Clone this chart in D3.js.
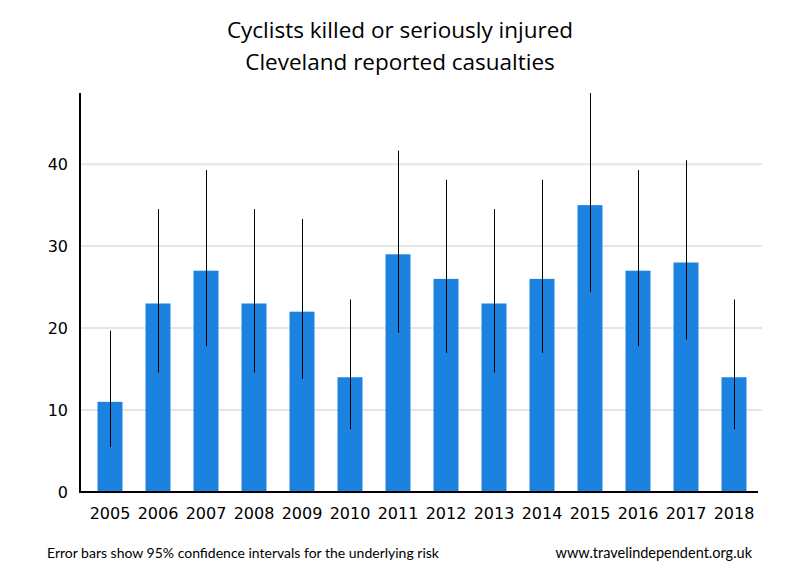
<!DOCTYPE html>
<html><head><meta charset="utf-8">
<script src="https://cdn.jsdelivr.net/npm/d3@7"></script>
<style>body{margin:0;background:#fff}</style>
</head><body>
<script>
const years = ["2005","2006","2007","2008","2009","2010","2011","2012","2013","2014","2015","2016","2017","2018"];
const casualties = [11,23,27,23,22,14,29,26,23,26,35,27,28,14];
const ciLow  = [5.49,14.58,17.79,14.58,13.79,7.65,19.42,16.98,14.58,16.98,24.38,17.79,18.61,7.65];
const ciHigh = [19.68,34.51,39.28,34.51,33.31,23.49,41.65,38.10,34.51,38.10,48.68,39.28,40.47,23.49];
const yTicks = [0,10,20,30,40];
const titleLines = ["Cyclists killed or seriously injured","Cleveland reported casualties"];
const noteLeft = "Error bars show 95% confidence intervals for the underlying risk";
const noteRight = "www.travelindependent.org.uk";

const W=800,H=580;
const svg=d3.select("body").append("svg").attr("width",W).attr("height",H);
const x=d3.scaleBand().domain(years).range([85,757]).paddingInner(0.48).paddingOuter(0.24);
const y=d3.scaleLinear().domain([0,48.68]).range([492,93]);

svg.append("g").selectAll("line").data(yTicks.filter(d=>d>0)).join("line")
  .attr("x1",80).attr("x2",762).attr("y1",d=>y(d)).attr("y2",d=>y(d))
  .attr("stroke","#e6e6e6").attr("stroke-width",2);

svg.append("g").selectAll("rect").data(casualties).join("rect")
  .attr("x",(d,i)=>x(years[i])+1).attr("width",x.bandwidth())
  .attr("y",d=>y(d)).attr("height",d=>y(0)-y(d)).attr("fill","#1c82e0");

svg.append("g").selectAll("line").data(years).join("line")
  .attr("x1",d=>Math.round(x(d)+x.bandwidth()/2+1)+0.5).attr("x2",d=>Math.round(x(d)+x.bandwidth()/2+1)+0.5)
  .attr("y1",(d,i)=>y(ciLow[i])).attr("y2",(d,i)=>y(ciHigh[i]))
  .attr("stroke","#000").attr("stroke-width",1);

// axes
const yAxis=svg.append("g").attr("transform","translate(80,0)")
  .call(d3.axisLeft(y).tickValues(yTicks).tickSize(0).tickPadding(12));
yAxis.select(".domain").remove();
yAxis.selectAll("text").attr("font-family","DejaVu Sans, Verdana, sans-serif").attr("font-size",16).attr("fill","#000");
svg.append("line").attr("x1",80).attr("x2",80).attr("y1",93).attr("y2",493).attr("stroke","#000").attr("stroke-width",2);

const xAxis=svg.append("g").attr("transform","translate(1,492)")
  .call(d3.axisBottom(x).tickSize(0).tickPadding(16));
xAxis.select(".domain").remove();
xAxis.selectAll("text").attr("font-family","DejaVu Sans, Verdana, sans-serif").attr("font-size",16).attr("fill","#000");
svg.append("line").attr("x1",79).attr("x2",758).attr("y1",492).attr("y2",492).attr("stroke","#000").attr("stroke-width",2);

svg.append("g").selectAll("text").data(titleLines).join("text")
  .attr("x",400).attr("y",(d,i)=>38+i*32).attr("text-anchor","middle")
  .attr("font-family","Open Sans, sans-serif").attr("font-size",22.5).attr("fill","#000").text(d=>d);

svg.append("text").attr("x",47).attr("y",558).attr("font-family","Lato, sans-serif").attr("font-size",14).attr("fill","#000").text(noteLeft);
svg.append("text").attr("x",752).attr("y",558).attr("text-anchor","end").attr("font-family","Lato, sans-serif").attr("font-size",14.5).attr("fill","#000").text(noteRight);
</script>
</body></html>
